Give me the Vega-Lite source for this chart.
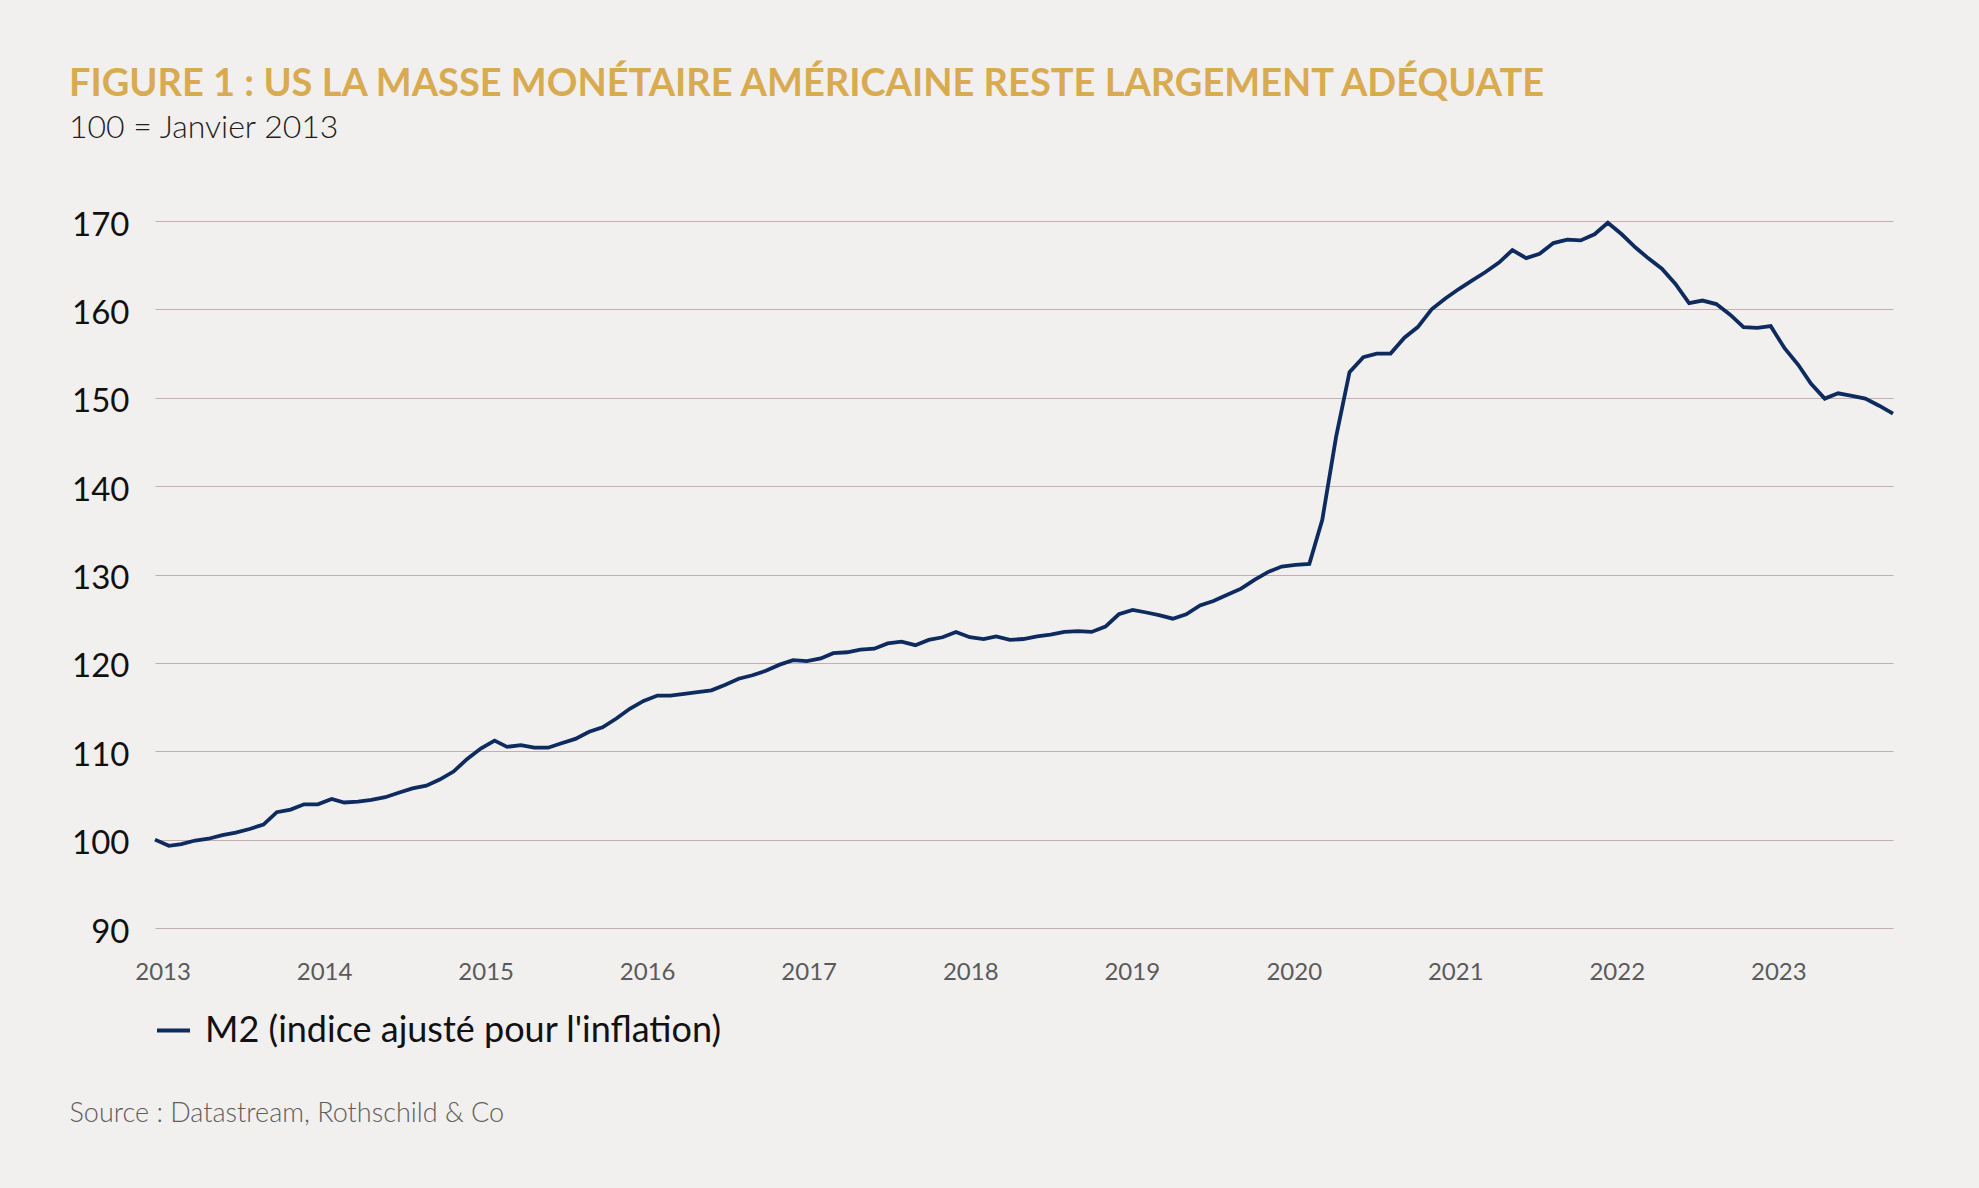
{
  "$schema": "https://vega.github.io/schema/vega-lite/v6.json",
  "width": 1738,
  "height": 707,
  "autosize": {"type": "none"},
  "padding": {"left": 155, "top": 221, "right": 86, "bottom": 260},
  "background": "#F2EFEF",
  "title": {
    "text": "FIGURE 1 : US LA MASSE MONÉTAIRE AMÉRICAINE RESTE LARGEMENT ADÉQUATE",
    "subtitle": "100 = Janvier 2013",
    "anchor": "start",
    "frame": "group",
    "dx": -86,
    "offset": 65,
    "font": "Lato",
    "fontWeight": "bold",
    "fontSize": 38,
    "color": "#D9AB50",
    "subtitleFont": "Lato",
    "subtitleFontWeight": 300,
    "subtitleFontSize": 32,
    "subtitleColor": "#1E1E1E",
    "subtitlePadding": 9
  },
  "config": {"view": {"stroke": null}},
  "data": {
    "values": [
      {"date": "2013-01-01", "v": 100.0}, {"date": "2013-02-01", "v": 99.3}, {"date": "2013-03-01", "v": 99.5}, {"date": "2013-04-01", "v": 99.9},
      {"date": "2013-05-01", "v": 100.1}, {"date": "2013-06-01", "v": 100.5}, {"date": "2013-07-01", "v": 100.8}, {"date": "2013-08-01", "v": 101.2},
      {"date": "2013-09-01", "v": 101.7}, {"date": "2013-10-01", "v": 103.1}, {"date": "2013-11-01", "v": 103.4}, {"date": "2013-12-01", "v": 104.0},
      {"date": "2014-01-01", "v": 104.0}, {"date": "2014-02-01", "v": 104.6}, {"date": "2014-03-01", "v": 104.2}, {"date": "2014-04-01", "v": 104.3},
      {"date": "2014-05-01", "v": 104.5}, {"date": "2014-06-01", "v": 104.8}, {"date": "2014-07-01", "v": 105.3}, {"date": "2014-08-01", "v": 105.8},
      {"date": "2014-09-01", "v": 106.1}, {"date": "2014-10-01", "v": 106.8}, {"date": "2014-11-01", "v": 107.7}, {"date": "2014-12-01", "v": 109.1},
      {"date": "2015-01-01", "v": 110.3}, {"date": "2015-02-01", "v": 111.2}, {"date": "2015-03-01", "v": 110.5}, {"date": "2015-04-01", "v": 110.7},
      {"date": "2015-05-01", "v": 110.4}, {"date": "2015-06-01", "v": 110.4}, {"date": "2015-07-01", "v": 110.9}, {"date": "2015-08-01", "v": 111.4},
      {"date": "2015-09-01", "v": 112.2}, {"date": "2015-10-01", "v": 112.7}, {"date": "2015-11-01", "v": 113.7}, {"date": "2015-12-01", "v": 114.8},
      {"date": "2016-01-01", "v": 115.7}, {"date": "2016-02-01", "v": 116.3}, {"date": "2016-03-01", "v": 116.3}, {"date": "2016-04-01", "v": 116.5},
      {"date": "2016-05-01", "v": 116.7}, {"date": "2016-06-01", "v": 116.9}, {"date": "2016-07-01", "v": 117.5}, {"date": "2016-08-01", "v": 118.2},
      {"date": "2016-09-01", "v": 118.6}, {"date": "2016-10-01", "v": 119.1}, {"date": "2016-11-01", "v": 119.8}, {"date": "2016-12-01", "v": 120.3},
      {"date": "2017-01-01", "v": 120.2}, {"date": "2017-02-01", "v": 120.5}, {"date": "2017-03-01", "v": 121.1}, {"date": "2017-04-01", "v": 121.2},
      {"date": "2017-05-01", "v": 121.5}, {"date": "2017-06-01", "v": 121.6}, {"date": "2017-07-01", "v": 122.2}, {"date": "2017-08-01", "v": 122.4},
      {"date": "2017-09-01", "v": 122.0}, {"date": "2017-10-01", "v": 122.6}, {"date": "2017-11-01", "v": 122.9}, {"date": "2017-12-01", "v": 123.5},
      {"date": "2018-01-01", "v": 122.9}, {"date": "2018-02-01", "v": 122.7}, {"date": "2018-03-01", "v": 123.0}, {"date": "2018-04-01", "v": 122.6},
      {"date": "2018-05-01", "v": 122.7}, {"date": "2018-06-01", "v": 123.0}, {"date": "2018-07-01", "v": 123.2}, {"date": "2018-08-01", "v": 123.5},
      {"date": "2018-09-01", "v": 123.6}, {"date": "2018-10-01", "v": 123.5}, {"date": "2018-11-01", "v": 124.1}, {"date": "2018-12-01", "v": 125.5},
      {"date": "2019-01-01", "v": 126.0}, {"date": "2019-02-01", "v": 125.7}, {"date": "2019-03-01", "v": 125.4}, {"date": "2019-04-01", "v": 125.0},
      {"date": "2019-05-01", "v": 125.5}, {"date": "2019-06-01", "v": 126.5}, {"date": "2019-07-01", "v": 127.0}, {"date": "2019-08-01", "v": 127.7},
      {"date": "2019-09-01", "v": 128.4}, {"date": "2019-10-01", "v": 129.4}, {"date": "2019-11-01", "v": 130.3}, {"date": "2019-12-01", "v": 130.9},
      {"date": "2020-01-01", "v": 131.1}, {"date": "2020-02-01", "v": 131.2}, {"date": "2020-03-01", "v": 136.2}, {"date": "2020-04-01", "v": 145.6},
      {"date": "2020-05-01", "v": 152.9}, {"date": "2020-06-01", "v": 154.6}, {"date": "2020-07-01", "v": 155.0}, {"date": "2020-08-01", "v": 155.0},
      {"date": "2020-09-01", "v": 156.8}, {"date": "2020-10-01", "v": 158.0}, {"date": "2020-11-01", "v": 160.0}, {"date": "2020-12-01", "v": 161.2},
      {"date": "2021-01-01", "v": 162.3}, {"date": "2021-02-01", "v": 163.3}, {"date": "2021-03-01", "v": 164.2}, {"date": "2021-04-01", "v": 165.3},
      {"date": "2021-05-01", "v": 166.7}, {"date": "2021-06-01", "v": 165.8}, {"date": "2021-07-01", "v": 166.3}, {"date": "2021-08-01", "v": 167.5},
      {"date": "2021-09-01", "v": 167.9}, {"date": "2021-10-01", "v": 167.8}, {"date": "2021-11-01", "v": 168.5}, {"date": "2021-12-01", "v": 169.8},
      {"date": "2022-01-01", "v": 168.5}, {"date": "2022-02-01", "v": 167.0}, {"date": "2022-03-01", "v": 165.8}, {"date": "2022-04-01", "v": 164.6},
      {"date": "2022-05-01", "v": 162.9}, {"date": "2022-06-01", "v": 160.7}, {"date": "2022-07-01", "v": 161.0}, {"date": "2022-08-01", "v": 160.6},
      {"date": "2022-09-01", "v": 159.4}, {"date": "2022-10-01", "v": 158.0}, {"date": "2022-11-01", "v": 157.9}, {"date": "2022-12-01", "v": 158.1},
      {"date": "2023-01-01", "v": 155.6}, {"date": "2023-02-01", "v": 153.7}, {"date": "2023-03-01", "v": 151.6}, {"date": "2023-04-01", "v": 149.9},
      {"date": "2023-05-01", "v": 150.5}, {"date": "2023-06-01", "v": 150.2}, {"date": "2023-07-01", "v": 149.9}, {"date": "2023-08-01", "v": 149.1},
      {"date": "2023-09-01", "v": 148.2}
    ]
  },
  "mark": {"type": "line", "strokeWidth": 3.8, "strokeJoin": "miter", "clip": false},
  "encoding": {
    "x": {
      "field": "date",
      "type": "temporal",
      "scale": {
        "type": "utc",
        "domain": [
          {"year": 2013, "month": 1, "date": 1, "utc": true},
          {"year": 2023, "month": 9, "date": 1, "utc": true}
        ]
      },
      "axis": {
        "values": [
          {"year": 2013, "month": 1, "date": 18, "utc": true},
          {"year": 2014, "month": 1, "date": 15, "utc": true},
          {"year": 2015, "month": 1, "date": 12, "utc": true},
          {"year": 2016, "month": 1, "date": 9, "utc": true},
          {"year": 2017, "month": 1, "date": 5, "utc": true},
          {"year": 2018, "month": 1, "date": 2, "utc": true},
          {"year": 2018, "month": 12, "date": 30, "utc": true},
          {"year": 2019, "month": 12, "date": 28, "utc": true},
          {"year": 2020, "month": 12, "date": 24, "utc": true},
          {"year": 2021, "month": 12, "date": 21, "utc": true},
          {"year": 2022, "month": 12, "date": 18, "utc": true}
        ],
        "labelExpr": "utcFormat(datum.value + 1728000000, '%Y')",
        "grid": false,
        "domain": false,
        "ticks": false,
        "labelFont": "Lato",
        "labelFontSize": 24,
        "labelColor": "#5A5A5A",
        "labelPadding": 32,
        "labelOverlap": false,
        "labelFlush": false,
        "title": "Source : Datastream, Rothschild & Co",
        "titleX": -86,
        "titleY": 185,
        "titleAlign": "left",
        "titleAnchor": "start",
        "titleBaseline": "middle",
        "titleFont": "Lato",
        "titleFontSize": 27,
        "titleFontWeight": 300,
        "titleColor": "#5E5E5E"
      }
    },
    "y": {
      "field": "v",
      "type": "quantitative",
      "scale": {"domain": [90, 170], "nice": false, "zero": false},
      "axis": {
        "values": [90, 100, 110, 120, 130, 140, 150, 160, 170],
        "grid": true,
        "gridColor": "#C7AEAE",
        "gridWidth": 1.2,
        "domain": false,
        "ticks": false,
        "labelFont": "Lato",
        "labelFontSize": 33,
        "labelColor": "#111111",
        "labelPadding": 26,
        "labelOffset": 4,
        "labelBaseline": "middle",
        "labelBound": false,
        "labelFlush": false,
        "labelOverlap": false,
        "title": null
      }
    },
    "color": {
      "datum": "M2 (indice ajusté pour l'inflation)",
      "type": "nominal",
      "scale": {"range": ["#0D2B5E"]},
      "legend": {
        "orient": "none",
        "legendX": 0,
        "legendY": 791,
        "title": null,
        "padding": 0,
        "symbolType": "stroke",
        "symbolSize": 1089,
        "symbolStrokeWidth": 4,
        "labelFont": "Lato",
        "labelFontSize": 36,
        "labelColor": "#111111",
        "labelOffset": 13,
        "labelLimit": 1000
      }
    }
  }
}
